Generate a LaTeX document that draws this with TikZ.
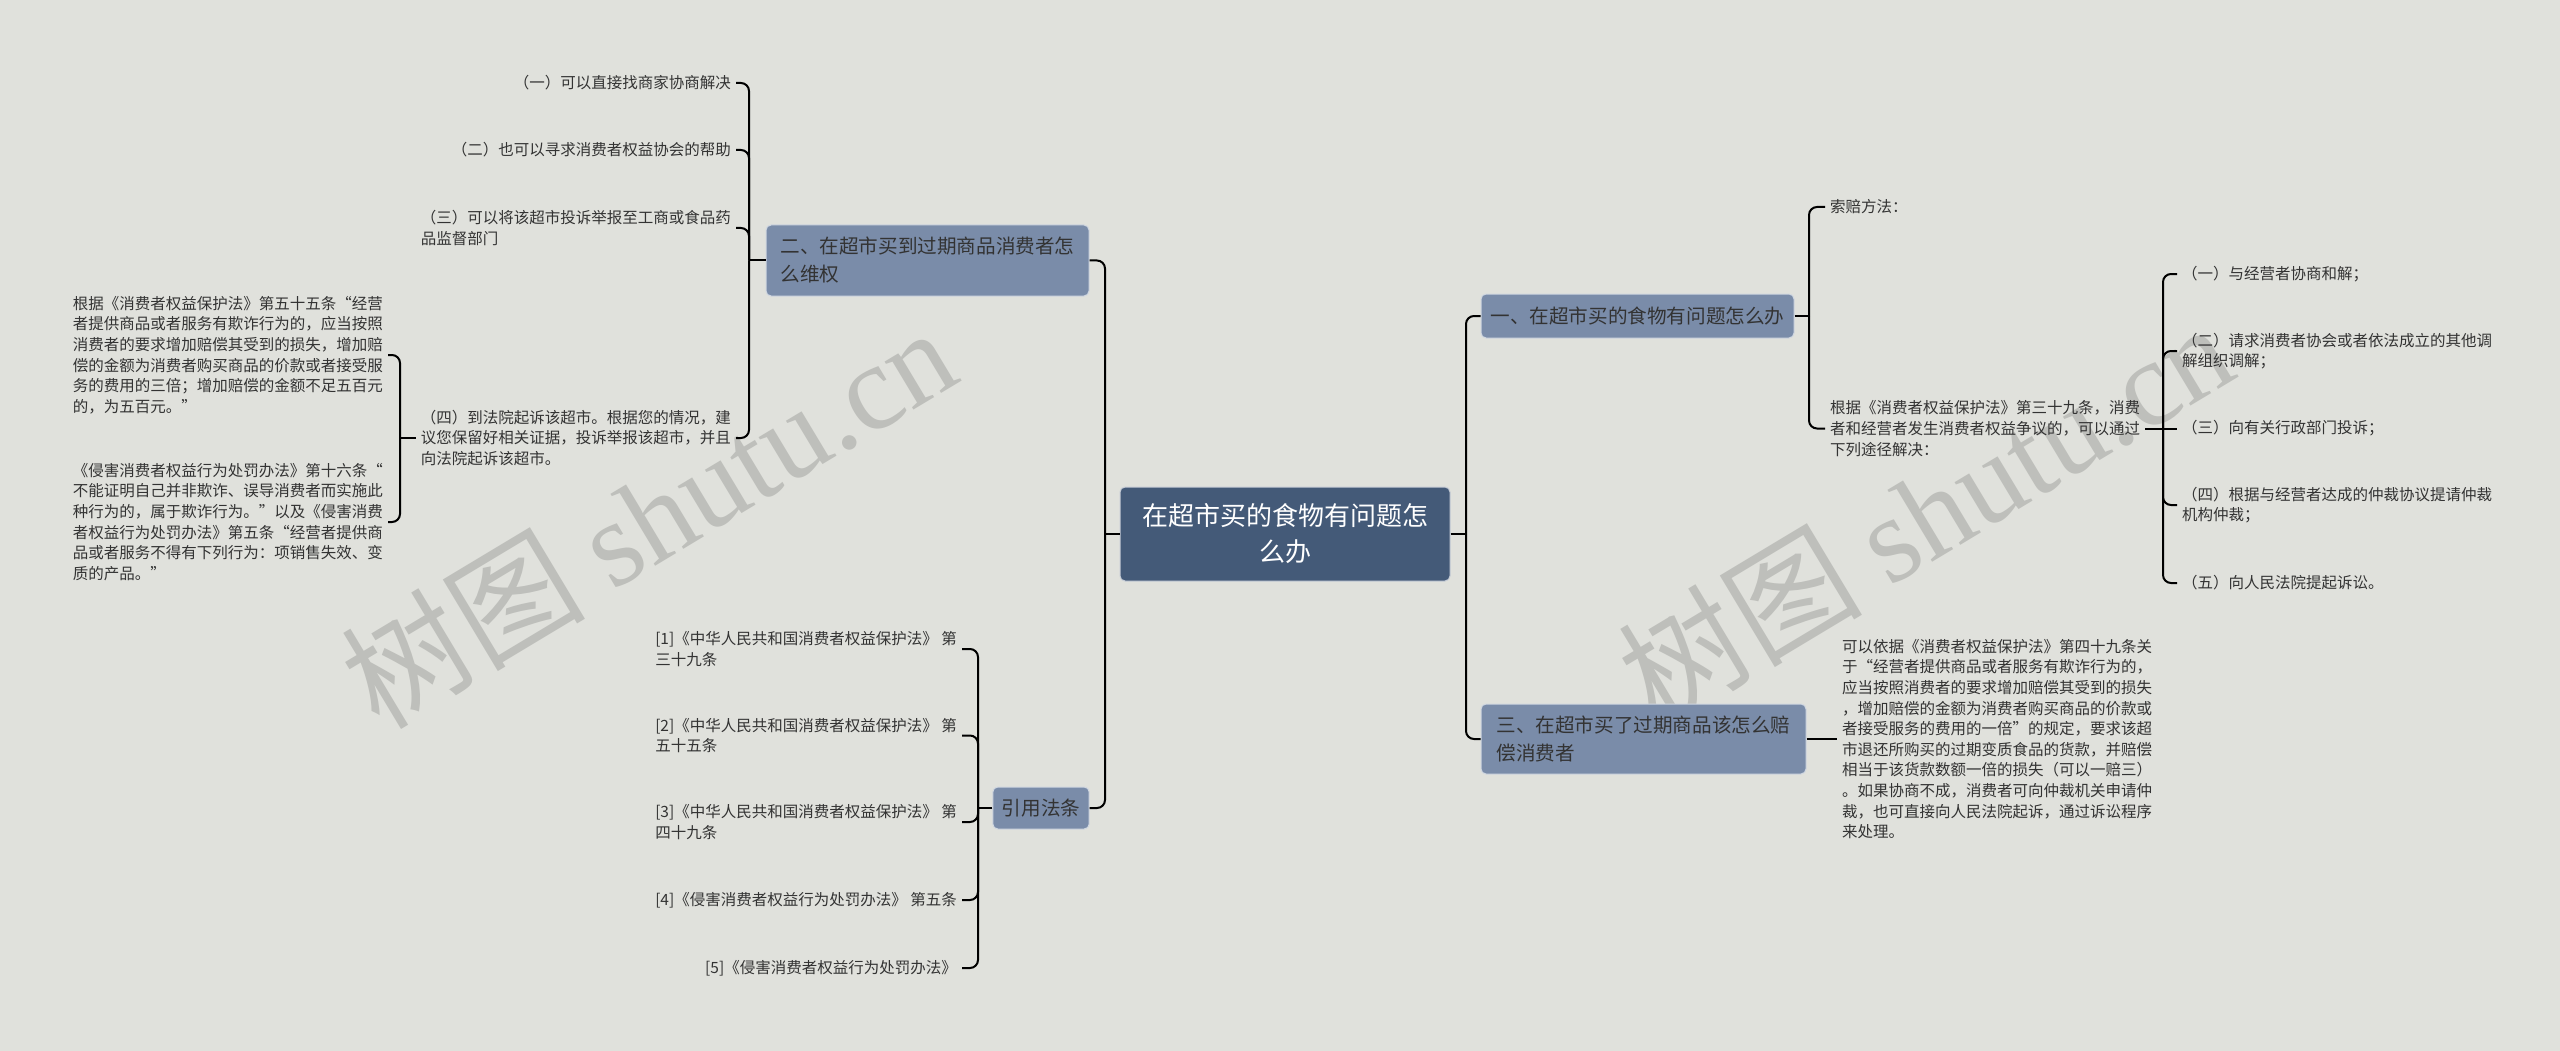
\documentclass[tikz,border=0pt]{standalone}
\usepackage{fontspec}
\setmainfont{Noto Sans CJK SC}
\newfontfamily\wmserif{Liberation Serif}

\definecolor{paper}{RGB}{224,225,220}
\definecolor{rootblue}{RGB}{68,90,120}
\definecolor{branchblue}{RGB}{122,140,169}
\definecolor{inktext}{RGB}{51,51,51}
\definecolor{wmgray}{RGB}{190,191,187}

\begin{document}
\begin{tikzpicture}[x=1pt, y=-1pt,
    rootbox/.style={rounded corners=5pt, fill=rootblue, draw=white!70!rootblue, line width=1pt,
        text=white, font=\fontsize{26}{36}\selectfont, align=center,
        minimum width=330pt, minimum height=94pt},
    branchbox/.style={rounded corners=5pt, fill=branchblue, draw=white!65!branchblue, line width=1pt,
        text=inktext, font=\fontsize{19.6}{28}\selectfont, align=left,
        minimum height=44pt, inner xsep=9pt},
    leafnote/.style={text=inktext, font=\fontsize{15.5}{20.6}\selectfont, align=left, inner sep=5pt},
    linkline/.style={draw=black, line width=2pt, rounded corners=8pt},
    wmtext/.style={text=wmgray, font=\fontsize{122}{122}\selectfont, rotate=31}]

    \useasboundingbox (0,0) rectangle (2560,1051);
    \fill[paper] (0,0) rectangle (2560,1051);

    % watermark
    \node[wmtext] (wm1) at (648,516) {树图 {\wmserif shutu.cn}};
    \node[wmtext] (wm2) at (1925,512) {树图 {\wmserif shutu.cn}};

    \node[rootbox] (root) at (1285,534)
        {在超市买的食物有问题怎\\么办};

    \node[branchbox, minimum width=323pt, minimum height=71pt] (b2) at (927.5,260.5)
        {二、在超市买到过期商品消费者怎\\么维权};

    \node[branchbox, minimum width=96pt, minimum height=42pt] (b4) at (1041,808)
        {引用法条};

    \node[branchbox, minimum width=313pt] (b1) at (1637.5,316)
        {一、在超市买的食物有问题怎么办};

    \node[branchbox, minimum width=325pt, minimum height=70pt] (b3) at (1643.5,739)
        {三、在超市买了过期商品该怎么赔\\偿消费者};

    % right side, first branch
    \node[leafnote, anchor=west] (c11) at (1825,207)
        {索赔方法：};

    \node[leafnote, anchor=west] (c12) at (1825,428.5)
        {根据《消费者权益保护法》第三十九条，消费\\者和经营者发生消费者权益争议的，可以通过\\下列途径解决：};

    \node[leafnote, anchor=west] (d1) at (2177,274)
        {（一）与经营者协商和解；};

    \node[leafnote, anchor=west] (d2) at (2177,351)
        {（二）请求消费者协会或者依法成立的其他调\\解组织调解；};

    \node[leafnote, anchor=west] (d3) at (2177,428.5)
        {（三）向有关行政部门投诉；};

    \node[leafnote, anchor=west] (d4) at (2177,505)
        {（四）根据与经营者达成的仲裁协议提请仲裁\\机构仲裁；};

    \node[leafnote, anchor=west] (d5) at (2177,583)
        {（五）向人民法院提起诉讼。};

    % right side, third branch
    \node[leafnote, anchor=west] (e1) at (1837,739)
        {可以依据《消费者权益保护法》第四十九条关\\于“经营者提供商品或者服务有欺诈行为的，\\应当按照消费者的要求增加赔偿其受到的损失\\，增加赔偿的金额为消费者购买商品的价款或\\者接受服务的费用的一倍”的规定，要求该超\\市退还所购买的过期变质食品的货款，并赔偿\\相当于该货款数额一倍的损失（可以一赔三）\\。如果协商不成，消费者可向仲裁机关申请仲\\裁，也可直接向人民法院起诉，通过诉讼程序\\来处理。};

    % left side, second branch
    \node[leafnote, anchor=east] (f1) at (736,83)
        {（一）可以直接找商家协商解决};

    \node[leafnote, anchor=east] (f2) at (736,150)
        {（二）也可以寻求消费者权益协会的帮助};

    \node[leafnote, anchor=east] (f3) at (736,228)
        {（三）可以将该超市投诉举报至工商或食品药\\品监督部门};

    \node[leafnote, anchor=east] (f4) at (736,438)
        {（四）到法院起诉该超市。根据您的情况，建\\议您保留好相关证据，投诉举报该超市，并且\\向法院起诉该超市。};

    \node[leafnote, anchor=east] (g1) at (388,355)
        {根据《消费者权益保护法》第五十五条“经营\\者提供商品或者服务有欺诈行为的，应当按照\\消费者的要求增加赔偿其受到的损失，增加赔\\偿的金额为消费者购买商品的价款或者接受服\\务的费用的三倍；增加赔偿的金额不足五百元\\的，为五百元。”};

    \node[leafnote, anchor=east] (g2) at (388,522)
        {《侵害消费者权益行为处罚办法》第十六条“\\不能证明自己并非欺诈、误导消费者而实施此\\种行为的，属于欺诈行为。”以及《侵害消费\\者权益行为处罚办法》第五条“经营者提供商\\品或者服务不得有下列行为：项销售失效、变\\质的产品。”};

    % left side, cited laws
    \node[leafnote, anchor=east] (h1) at (962,649)
        {[1]《中华人民共和国消费者权益保护法》 第\\三十九条};

    \node[leafnote, anchor=east] (h2) at (962,735.5)
        {[2]《中华人民共和国消费者权益保护法》 第\\五十五条};

    \node[leafnote, anchor=east] (h3) at (962,822)
        {[3]《中华人民共和国消费者权益保护法》 第\\四十九条};

    \node[leafnote, anchor=east] (h4) at (962,900)
        {[4]《侵害消费者权益行为处罚办法》 第五条};

    \node[leafnote, anchor=east] (h5) at (962,968)
        {[5]《侵害消费者权益行为处罚办法》};

    % junctions
    \coordinate (lj) at (1105,534);
    \coordinate (rj) at (1466,534);
    \coordinate (b1j) at (1809,316);
    \coordinate (c12j) at (2163,428.5);
    \coordinate (b2j) at (749,260.5);
    \coordinate (f4j) at (400,438);
    \coordinate (b4j) at (978,808);

    \draw[linkline] (root.west) -- (lj);
    \draw[linkline] (lj) |- (b2.east);
    \draw[linkline] (lj) |- (b4.east);

    \draw[linkline] (root.east) -- (rj);
    \draw[linkline] (rj) |- (b1.west);
    \draw[linkline] (rj) |- (b3.west);

    \draw[linkline] (b1.east) -- (b1j);
    \draw[linkline] (b1j) |- (c11.west);
    \draw[linkline] (b1j) |- (c12.west);

    \draw[linkline] (c12.east) -- (c12j);
    \draw[linkline] (c12j) |- (d1.west);
    \draw[linkline] (c12j) |- (d2.west);
    \draw[linkline] (c12j) -- (d3.west);
    \draw[linkline] (c12j) |- (d4.west);
    \draw[linkline] (c12j) |- (d5.west);

    \draw[linkline] (b3.east) -- (e1.west);

    \draw[linkline] (b2.west) -- (b2j);
    \draw[linkline] (b2j) |- (f1.east);
    \draw[linkline] (b2j) |- (f2.east);
    \draw[linkline] (b2j) |- (f3.east);
    \draw[linkline] (b2j) |- (f4.east);

    \draw[linkline] (f4.west) -- (f4j);
    \draw[linkline] (f4j) |- (g1.east);
    \draw[linkline] (f4j) |- (g2.east);

    \draw[linkline] (b4.west) -- (b4j);
    \draw[linkline] (b4j) |- (h1.east);
    \draw[linkline] (b4j) |- (h2.east);
    \draw[linkline] (b4j) |- (h3.east);
    \draw[linkline] (b4j) |- (h4.east);
    \draw[linkline] (b4j) |- (h5.east);

\end{tikzpicture}
\end{document}
